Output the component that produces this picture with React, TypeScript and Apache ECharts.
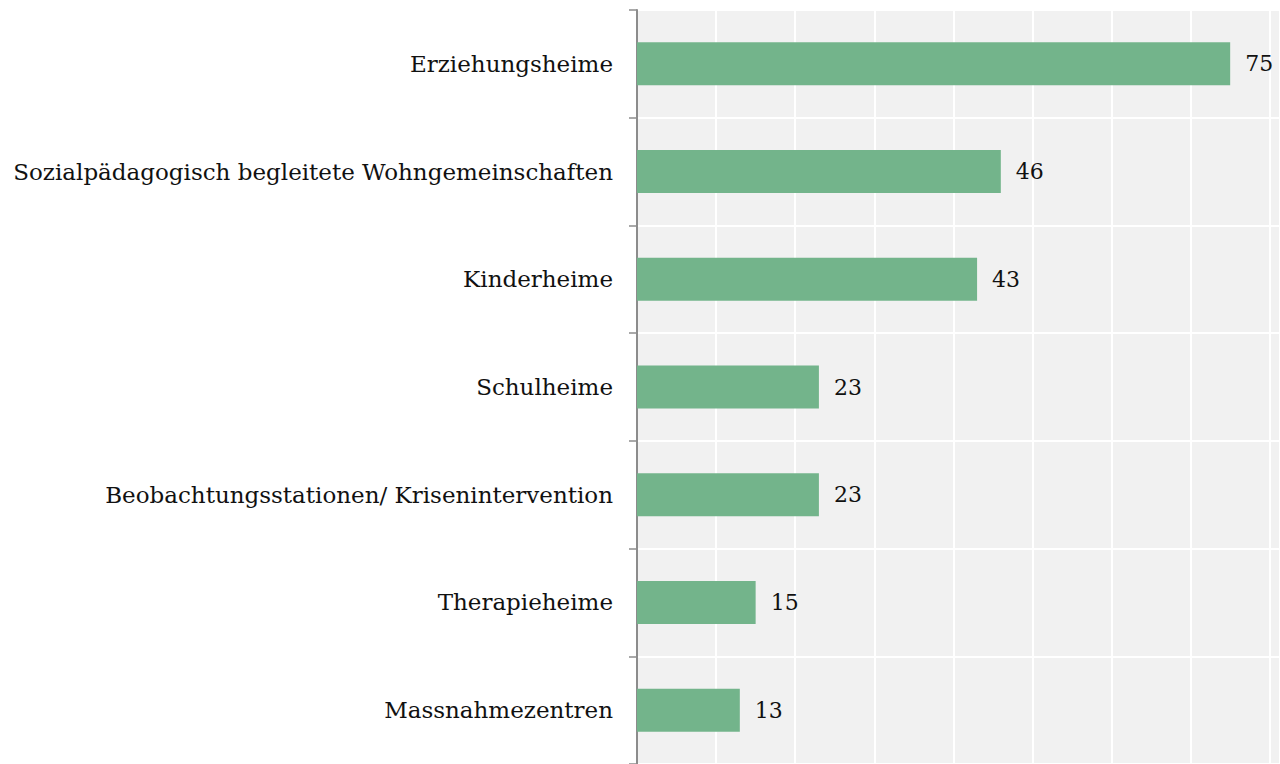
import React, { useEffect, useRef } from "react";
import * as echarts from "echarts";

const categories = [
  "Erziehungsheime",
  "Sozialpädagogisch begleitete Wohngemeinschaften",
  "Kinderheime",
  "Schulheime",
  "Beobachtungsstationen/ Krisenintervention",
  "Therapieheime",
  "Massnahmezentren",
];
const values = [75, 46, 43, 23, 23, 15, 13];

const FONT = "'DejaVu Serif', serif";

export default function App() {
  const ref = useRef<HTMLDivElement>(null);
  useEffect(() => {
    document.body.style.margin = "0";
    const chart = echarts.init(ref.current!, undefined, { renderer: "svg" });
    chart.setOption({
      animation: false,
      backgroundColor: "#ffffff",
      grid: {
        left: 637,
        right: 0,
        top: 10,
        bottom: -2,
        containLabel: false,
        show: true,
        backgroundColor: "#f1f1f1",
        borderWidth: 0,
      },
      xAxis: {
        type: "value",
        min: 0,
        max: 81.3,
        interval: 10,
        axisLabel: { show: false },
        axisLine: { show: false },
        axisTick: { show: false },
        splitLine: { show: true, lineStyle: { color: "#ffffff", width: 2 } },
      },
      yAxis: {
        type: "category",
        data: categories,
        inverse: true,
        axisLine: { show: true, lineStyle: { color: "#8c8c8c", width: 2 } },
        axisTick: { show: true, length: 8, lineStyle: { color: "#8c8c8c", width: 1.5 } },
        axisLabel: {
          color: "#111111",
          fontFamily: FONT,
          fontSize: 23,
          margin: 24,
        },
        splitLine: { show: true, lineStyle: { color: "#ffffff", width: 2 } },
      },
      series: [
        {
          type: "bar",
          data: values,
          barWidth: 43,
          itemStyle: { color: "#73b48b" },
          label: {
            show: true,
            position: "right",
            distance: 15,
            color: "#111111",
            fontFamily: FONT,
            fontSize: 22,
          },
        },
      ],
    });
    return () => chart.dispose();
  }, []);
  return <div ref={ref} style={{ width: 1280, height: 764 }} />;
}
